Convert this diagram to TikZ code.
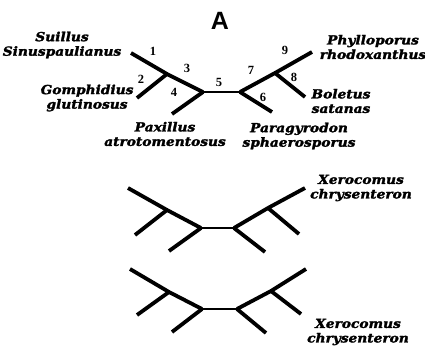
\documentclass[tikz,border=0pt]{standalone}
\usepackage{fontspec}
\newfontfamily\labfont[FakeStretch=1.1,FakeBold=2]{DejaVu Serif}
\newfontfamily\numfont{Liberation Serif}
\newfontfamily\titlefont{Liberation Sans}
\begin{document}
\begin{tikzpicture}[x=1pt,y=-1pt,
  br/.style={line width=3.8pt,line cap=butt},
  mid/.style={line width=2.8pt},
  sp/.style={font=\labfont\bfseries\itshape\fontsize{12.5}{14.5}\selectfont,align=center,inner sep=0pt},
  num/.style={font=\numfont\bfseries\fontsize{12.5}{13}\selectfont,inner sep=0pt}]
\useasboundingbox (0,0) rectangle (425,346);
\node[font=\titlefont\bfseries\fontsize{25}{25}\selectfont,inner sep=0pt] (A) at (220,21) {A};
% tree 1
\coordinate (s) at (131,53);
\coordinate (g) at (167,74);
\coordinate (L) at (203,92);
\coordinate (gl) at (137,98);
\coordinate (pa) at (172,114);
\coordinate (R) at (240,92);
\coordinate (b) at (275,73);
\coordinate (ph) at (312,52);
\coordinate (bo) at (305,97);
\coordinate (pg) at (272,112);
\draw[br] (s) -- (g) -- (L);
\draw[br] (gl) -- (g);
\draw[br] (pa) -- (L);
\draw[mid] (L) -- (R);
\draw[br] (R) -- (b) -- (ph);
\draw[br] (b) -- (bo);
\draw[br] (R) -- (pg);
\node[num] (n1) at (153,51) {1};
\node[num] (n2) at (141,79) {2};
\node[num] (n3) at (187,68) {3};
\node[num] (n4) at (174,92) {4};
\node[num] (n5) at (219,82) {5};
\node[num] (n6) at (263,97) {6};
\node[num] (n7) at (251,70) {7};
\node[num] (n8) at (294,77) {8};
\node[num] (n9) at (285,50) {9};
\node[sp] (suil) at (62,45) {Suillus\\Sinuspaulianus};
\node[sp] (gomp) at (87,98) {Gomphidius\\glutinosus};
\node[sp] (paxi) at (165,134) {Paxillus\\atrotomentosus};
\node[sp] (para) at (299,136) {Paragyrodon\\sphaerosporus};
\node[sp] (phyl) at (373,47) {Phylloporus\\rhodoxanthus};
\node[sp] (bole) at (341,101) {Boletus\\satanas};
% tree 2
\coordinate (a1) at (128,188);
\coordinate (a2) at (167,210);
\coordinate (a3) at (135,235);
\coordinate (a4) at (201,228);
\coordinate (a5) at (169,251);
\coordinate (a6) at (234,228);
\coordinate (a7) at (268,208);
\coordinate (a8) at (305,188);
\coordinate (a9) at (299,234);
\coordinate (a10) at (265,252);
\draw[br] (a1) -- (a2) -- (a4);
\draw[br] (a3) -- (a2);
\draw[br] (a5) -- (a4);
\draw[mid] (a4) -- (a6);
\draw[br] (a6) -- (a7) -- (a8);
\draw[br] (a7) -- (a9);
\draw[br] (a6) -- (a10);
\node[sp] (xer1) at (361,188) {Xerocomus\\chrysenteron};
% tree 3
\coordinate (c1) at (130,269);
\coordinate (c2) at (169,292);
\coordinate (c3) at (137,315);
\coordinate (c4) at (202,309);
\coordinate (c5) at (172,332);
\coordinate (c6) at (237,309);
\coordinate (c7) at (271,291);
\coordinate (c8) at (306,269);
\coordinate (c9) at (301,314);
\coordinate (c10) at (266,333);
\draw[br] (c1) -- (c2) -- (c4);
\draw[br] (c3) -- (c2);
\draw[br] (c5) -- (c4);
\draw[mid] (c4) -- (c6);
\draw[br] (c6) -- (c7) -- (c8);
\draw[br] (c7) -- (c9);
\draw[br] (c6) -- (c10);
\node[sp] (xer2) at (358,332) {Xerocomus\\chrysenteron};
\end{tikzpicture}
\end{document}
